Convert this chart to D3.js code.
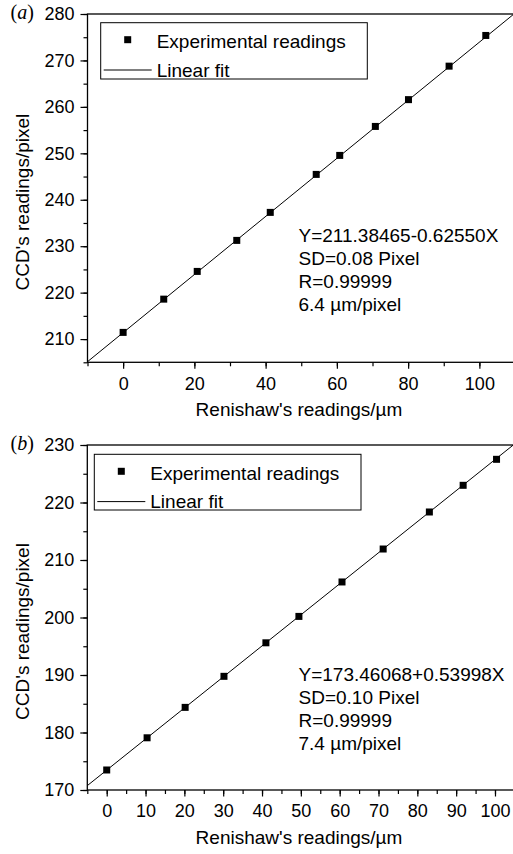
<!DOCTYPE html>
<html>
<head>
<meta charset="utf-8">
<script src="https://cdn.jsdelivr.net/npm/d3@7"></script>
<style>
  body { margin: 0; background: #fff; }
  svg { display: block; }
  text { font-family: "Liberation Sans", Arial, Helvetica, sans-serif; fill: #000; }
  text.plabel { font-family: "Liberation Serif", "Times New Roman", serif; }
</style>
</head>
<body>
<svg id="chart" width="513" height="854"></svg>
<script>
// panel (a)
const xA = [0, 11.4, 20.8, 31.9, 41.3, 54.2, 60.8, 70.8, 80.1, 91.5, 101.8];
const yA = [211.44, 218.6, 224.57, 231.25, 237.28, 245.46, 249.55, 255.79, 261.56, 268.77, 275.38];
const fitA = {intercept: 211.38465, slope: 0.62550};
const notesA = ["Y=211.38465-0.62550X", "SD=0.08 Pixel", "R=0.99999", "6.4 \u00b5m/pixel"];

// panel (b)
const xB = [0, 10.4, 20.2, 30.2, 41.0, 49.5, 60.6, 71.2, 83.1, 91.8, 100.4];
const yB = [173.48, 179.08, 184.37, 189.77, 195.6, 200.19, 206.18, 211.91, 218.35, 222.99, 227.51];
const fitB = {intercept: 173.46068, slope: 0.53998};
const notesB = ["Y=173.46068+0.53998X", "SD=0.10 Pixel", "R=0.99999", "7.4 \u00b5m/pixel"];

const legendLabels = ["Experimental readings", "Linear fit"];

const svg = d3.select("#chart");

function panel(cfg) {
  const g = svg.append("g");
  const x = d3.scaleLinear().domain(cfg.xDomain).range([cfg.left, cfg.right]);
  const y = d3.scaleLinear().domain(cfg.yDomain).range([cfg.bottom, cfg.top]);

  const clipId = "clip-" + cfg.id;
  svg.append("clipPath").attr("id", clipId)
    .append("rect")
    .attr("x", cfg.left).attr("y", cfg.top)
    .attr("width", cfg.right - cfg.left).attr("height", cfg.bottom - cfg.top);

  // frame
  g.append("rect")
    .attr("x", cfg.left).attr("y", cfg.top)
    .attr("width", cfg.right - cfg.left).attr("height", cfg.bottom - cfg.top)
    .attr("fill", "none").attr("stroke", "#000").attr("stroke-width", 1.3);

  // minor ticks
  g.append("g").attr("transform", `translate(0,${cfg.bottom})`)
    .call(d3.axisBottom(x).tickValues(d3.range(cfg.xDomain[0], cfg.xDomain[1] + 0.01, cfg.xMinor)).tickSize(4).tickFormat(""))
    .call(a => a.select(".domain").remove());
  g.append("g").attr("transform", `translate(${cfg.left},0)`)
    .call(d3.axisLeft(y).tickValues(d3.range(cfg.yDomain[0], cfg.yDomain[1] + 0.01, 5)).tickSize(4).tickFormat(""))
    .call(a => a.select(".domain").remove());

  // major ticks
  const xAx = g.append("g").attr("transform", `translate(0,${cfg.bottom})`)
    .call(d3.axisBottom(x).tickValues(cfg.xTicks).tickSize(6.5).tickPadding(8).tickFormat(d3.format("d")));
  const yAx = g.append("g").attr("transform", `translate(${cfg.left},0)`)
    .call(d3.axisLeft(y).tickValues(cfg.yTicks).tickSize(7).tickPadding(6).tickFormat(d3.format("d")));
  [xAx, yAx].forEach(a => {
    a.select(".domain").remove();
    a.selectAll("text").attr("font-size", 18);
  });
  g.selectAll(".tick line").attr("stroke", "#000").attr("stroke-width", 1.2);

  // fit line
  const xs = cfg.xDomain;
  g.append("path")
    .datum(xs.map(v => [v, cfg.fit.intercept + cfg.fit.slope * v]))
    .attr("clip-path", `url(#${clipId})`)
    .attr("fill", "none").attr("stroke", "#000").attr("stroke-width", 1)
    .attr("d", d3.line().x(d => x(d[0])).y(d => y(d[1])));

  // points
  const s = 7;
  g.selectAll("rect.pt")
    .data(cfg.xs.map((v, i) => [v, cfg.ys[i]]))
    .join("rect").attr("class", "pt")
    .attr("x", d => x(d[0]) - s / 2).attr("y", d => y(d[1]) - s / 2)
    .attr("width", s).attr("height", s).attr("fill", "#000");

  // legend
  const L = cfg.legend;
  g.append("rect")
    .attr("x", L.x).attr("y", L.y).attr("width", L.w).attr("height", L.h)
    .attr("fill", "#fff").attr("stroke", "#000").attr("stroke-width", 1);
  g.append("rect")
    .attr("x", L.x + 27 - s / 2).attr("y", L.y + 17 - s / 2)
    .attr("width", s).attr("height", s).attr("fill", "#000");
  g.append("text").attr("x", L.x + 56).attr("y", L.y + 25.5)
    .attr("font-size", 19).text(legendLabels[0]);
  g.append("line")
    .attr("x1", L.x + 3).attr("x2", L.x + 51)
    .attr("y1", L.y + 47.3).attr("y2", L.y + 47.3)
    .attr("stroke", "#000").attr("stroke-width", 1);
  g.append("text").attr("x", L.x + 56).attr("y", L.y + 54)
    .attr("font-size", 19).text(legendLabels[1]);

  // annotation
  g.append("text").attr("font-size", 19)
    .selectAll("tspan").data(cfg.notes).join("tspan")
    .attr("x", 298.5).attr("y", (d, i) => cfg.noteY + i * 23)
    .text(d => d);

  // axis titles
  g.append("text").attr("x", 299).attr("y", cfg.bottom + 54)
    .attr("text-anchor", "middle").attr("font-size", 19)
    .text("Renishaw's readings/\u00b5m");
  g.append("text")
    .attr("transform", `translate(28.5,${(cfg.top + cfg.bottom) / 2 + 14}) rotate(-90)`)
    .attr("text-anchor", "middle").attr("font-size", 19)
    .text("CCD's readings/pixel");

  // panel label
  const pl = g.append("text").attr("class", "plabel")
    .attr("x", 10.5).attr("y", cfg.top + 4.5).attr("font-size", 20);
  pl.append("tspan").text("(");
  pl.append("tspan").attr("font-style", "italic").text(cfg.id);
  pl.append("tspan").text(")");
}

panel({
  id: "a", left: 87.5, right: 515, top: 14, bottom: 362.3,
  xDomain: [-10, 110], yDomain: [205, 280],
  xTicks: [0, 20, 40, 60, 80, 100], xMinor: 10,
  yTicks: [210, 220, 230, 240, 250, 260, 270, 280],
  xs: xA, ys: yA, fit: fitA, notes: notesA, noteY: 241.5,
  legend: {x: 100.7, y: 22.7, w: 266.6, h: 56.3}
});

panel({
  id: "b", left: 87.3, right: 514.4, top: 445, bottom: 790,
  xDomain: [-5, 105], yDomain: [170, 230],
  xTicks: [0, 10, 20, 30, 40, 50, 60, 70, 80, 90, 100], xMinor: 5,
  yTicks: [170, 180, 190, 200, 210, 220, 230],
  xs: xB, ys: yB, fit: fitB, notes: notesB, noteY: 680.7,
  legend: {x: 94.3, y: 454.3, w: 266.7, h: 55.7}
});
</script>
</body>
</html>
